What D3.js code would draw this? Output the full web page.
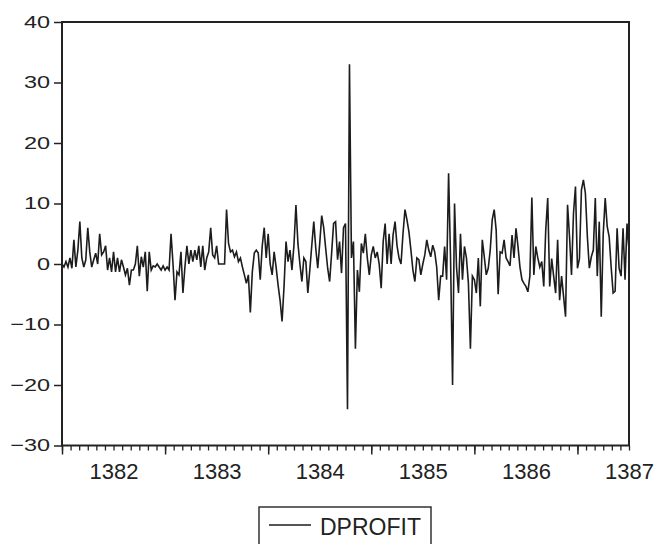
<!DOCTYPE html>
<html>
<head>
<meta charset="utf-8">
<script src="https://cdn.jsdelivr.net/npm/d3@7"></script>
<style>
  body { margin: 0; background: #fff; }
  text { font-family: Arial, "Liberation Sans", sans-serif; fill: #222; }
</style>
</head>
<body>
<div id="chart"></div>
<script>
// weekly series, first point at the start of 1382
var seriesName = "DPROFIT";
var startYear = 1382, perYear = 52;
var years = [1382, 1383, 1384, 1385, 1386, 1387];
var yTicks = [-30, -20, -10, 0, 10, 20, 30, 40];

var dprofit = [
  // 1382
  0, -0.5, 0.4, -0.5, 1, -0.7, 4, -0.5, 2.3, 7, 1, -0.5, 0.7, 6, 2, -0.5, 0.7, 1.8, 0, 5,
  1.5, 2, 3, -1, 1, -1.3, 2, -1.3, 1, -1.3, 0.7, -0.5, -1.8, -0.7, -3.5, -1, -1, 0, 3, -2,
  1.2, -0.5, 2, -4.5, 2, -1, -0.3, -0.5, 0,
  -0.5, -1, -0.3, -1, -0.5, -1, 5, 0, -6, -1.3, -1.8, 2, -4.8, -0.5, 3, 0, 2.3, 0.4, 2.3, 0.7,
  3, -0.5, 3, -1, 1, 2, 6, 1.5, 1, 3, 0, 0, 0, 0, 9, 3.4, 2, 2.3, 1.2, 2,
  0.4, 1, -0.5, -1.8, -3.2, -1.8, -8, -1.3, 1.8, 2.3,
  // 1383 - 1384
  1.8, -2.6, 3, 6, 1, 5, 0, -1.8, 2, -0.5, -3.5, -6, -9.5, -3.7, 3.7, 0.4, 2.3, -1, 3.1, 9.75,
  3.4, 0, -2.9, 1, 0.4, -4.8, -1, 3.1, 7, 2.6, -0.7, 3.4, 8, 6, 2.6, -0.7, -2.9, 1.8, 6.7, 7,
  0.7, 3.7, -1.5, 6, 6.7,
  -24, 33, 1, 3.7, -14, -1, -4.6, 3.4, 1.8, 5, 1, -1.8, 1.5, 2.9, 1, 2, 0, -4, 3.7, 6.7,
  0, 5, 0, 4.8, 7, 3, 1, 0, 5, 9, 7.3, 5.3, 2.3, -1, -2.9, 1, 0.7, -1.8, 0, 1.5,
  4, 2.3, 1.2, 3.1, 2, -0.5, -6, -2,
  // 1385 - 1386
  -2, 2.9, -2.6, 15, 0.7, -20, 10, -0.5, -4.8, 5, -2.6, 2.9, 1, -3.2, -14, -2, -2.6, -4.8, 1, -7,
  4, 1.2, -1.8, -0.7, 2.3, 7.3, 9, 5.6, -5, 2, 1.8, 4, 1, 0.4, -0.3, 4.8, 1, 5.9, 2.9, -0.5,
  -2.6, -3.2, -3.7, -4.6, -2, 11, -1.8, 2.9, 1, -0.5,
  0.4, -3.7, 5.6, 10.9, -3.7, 0.9, -2, -4.8, 4, -6, -2, -5.4, -8.7, 9.8, 4.5, -1.8, 8.4, 12.8, -0.7, 0.9,
  12.2, 13.9, 11.7, 4.5, -0.7, 1.2, 2.3, 10.9, -2, 7, -8.7, 5, 10.9, 6.2, 4.5, -0.5, -4.8, -4.5, 5.9, -0.7,
  -2, 5.9, -2.6, 6.7, 2.3
];

var W = 654, H = 544;
var margin = {top: 22, right: 25, bottom: 98.5, left: 62},
    width = W - margin.left - margin.right,
    height = H - margin.top - margin.bottom;

var svg = d3.select("#chart").append("svg")
    .attr("width", W)
    .attr("height", H);

var g = svg.append("g")
    .attr("transform", "translate(" + margin.left + "," + margin.top + ")");

var endDate = startYear + (dprofit.length - 1) / perYear;
var x = d3.scaleLinear().domain([startYear, endDate]).range([0, width]);
var y = d3.scaleLinear().domain([-30, 40]).range([height, 0]);

var points = dprofit.map(function (v, i) { return {t: startYear + i / perYear, v: v}; });

// monthly minor ticks, yearly major ticks
var months = d3.range(0, Math.round((endDate - startYear) * 12) + 1).map(function (m) { return startYear + m / 12; });

g.append("g")
    .attr("transform", "translate(0," + height + ")")
    .call(d3.axisBottom(x).tickValues(months).tickSize(5).tickFormat(""))
    .call(function (a) { a.select(".domain").remove(); a.selectAll("line").attr("stroke", "#222").attr("stroke-width", 1.3); });

g.append("g")
    .attr("transform", "translate(0," + height + ")")
    .call(d3.axisBottom(x).tickValues(years).tickSize(9).tickFormat(""))
    .call(function (a) { a.select(".domain").remove(); a.selectAll("line").attr("stroke", "#222").attr("stroke-width", 1.5); });

// year labels sit in the middle of each year
g.append("g")
    .attr("transform", "translate(0," + height + ")")
    .call(d3.axisBottom(x).tickValues(years.map(function (d) { return d + 0.5; }))
      .tickSize(0).tickPadding(17.5).tickFormat(function (d) { return Math.floor(d); }))
    .call(function (a) {
      a.select(".domain").remove();
      a.selectAll("text").attr("font-size", 22).attr("fill", "#222");
    });

g.append("g")
    .call(d3.axisLeft(y).tickValues(yTicks).tickSize(8).tickFormat(d3.format("d")))
    .call(function (a) {
      a.select(".domain").remove();
      a.selectAll("line").attr("stroke", "#222").attr("stroke-width", 1.5);
      a.selectAll("text")
        .attr("font-size", 17).attr("fill", "#222")
        .attr("x", 0)
        .attr("transform", "translate(-12,0) scale(1.38,1)");
    });

g.append("path")
    .datum(points)
    .attr("fill", "none")
    .attr("stroke", "#1c1c1c")
    .attr("stroke-width", 1.6)
    .attr("stroke-linejoin", "miter")
    .attr("d", d3.line().x(function (d) { return x(d.t); }).y(function (d) { return y(d.v); }));

g.append("rect")
    .attr("width", width)
    .attr("height", height)
    .attr("fill", "none")
    .attr("stroke", "#222")
    .attr("stroke-width", 2);

// legend
var lg = svg.append("g").attr("transform", "translate(259,507)");
lg.append("rect")
    .attr("width", 172)
    .attr("height", 50)
    .attr("fill", "#fff")
    .attr("stroke", "#333")
    .attr("stroke-width", 1.5);
lg.append("line")
    .attr("x1", 10).attr("x2", 52)
    .attr("y1", 18).attr("y2", 18)
    .attr("stroke", "#1c1c1c")
    .attr("stroke-width", 1.4);
lg.append("text")
    .attr("x", 61).attr("y", 28)
    .attr("font-size", 23)
    .text(seriesName);
</script>
</body>
</html>
